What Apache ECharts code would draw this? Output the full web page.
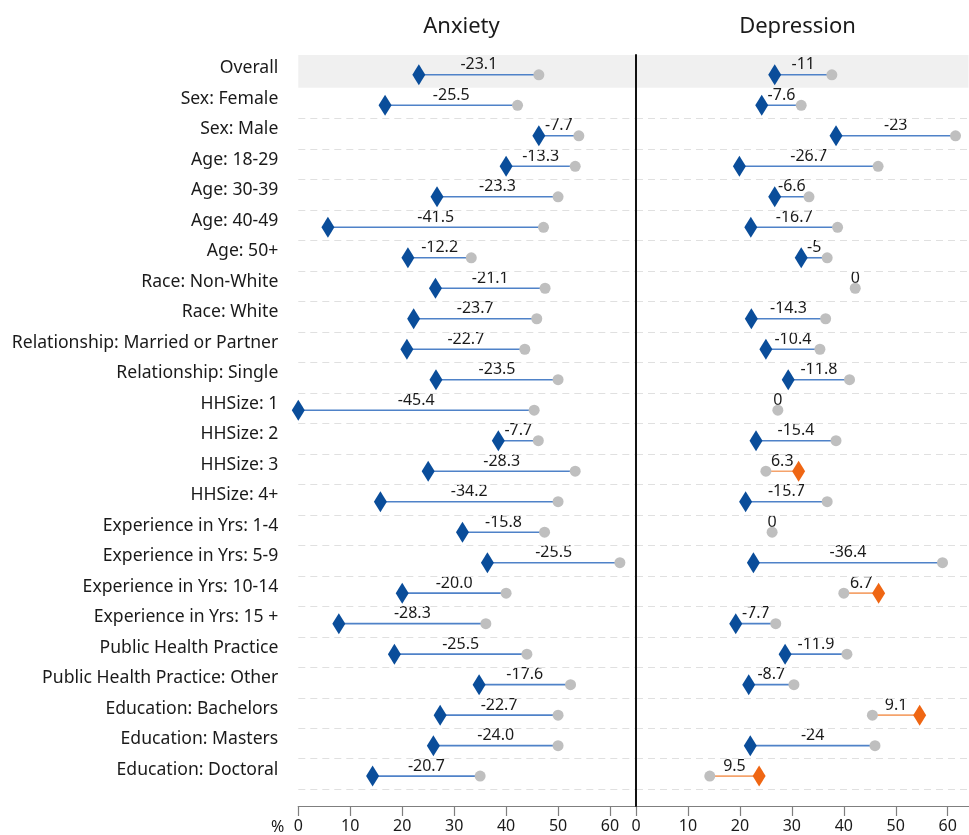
<!DOCTYPE html>
<html><head><meta charset="utf-8">
<script src="https://cdn.jsdelivr.net/npm/echarts@6/dist/echarts.min.js"></script>
<style>html,body{margin:0;padding:0;background:#fff}#c{width:969px;height:835px}</style>
</head><body><div id="c"></div>
<script>
const categories = ['Overall','Sex: Female','Sex: Male','Age: 18-29','Age: 30-39','Age: 40-49','Age: 50+','Race: Non-White','Race: White','Relationship: Married or Partner','Relationship: Single','HHSize: 1','HHSize: 2','HHSize: 3','HHSize: 4+','Experience in Yrs: 1-4','Experience in Yrs: 5-9','Experience in Yrs: 10-14','Experience in Yrs: 15 +','Public Health Practice','Public Health Practice: Other','Education: Bachelors','Education: Masters','Education: Doctoral'];
const anxietyBase   = [46.3, 42.2, 54.0, 53.3, 50.0, 47.2, 33.3, 47.5, 45.9, 43.6, 50.0, 45.4, 46.2, 53.3, 50.0, 47.4, 61.9, 40.0, 36.1, 44.0, 52.4, 50.0, 50.0, 35.0];
const anxietyFollow = [23.2, 16.7, 46.3, 40.0, 26.7, 5.7, 21.1, 26.4, 22.2, 20.9, 26.5, 0.0, 38.5, 25.0, 15.8, 31.6, 36.4, 20.0, 7.8, 18.5, 34.8, 27.3, 26.0, 14.3];
const anxietyDiff   = ['-23.1','-25.5','-7.7','-13.3','-23.3','-41.5','-12.2','-21.1','-23.7','-22.7','-23.5','-45.4','-7.7','-28.3','-34.2','-15.8','-25.5','-20.0','-28.3','-25.5','-17.6','-22.7','-24.0','-20.7'];
const depressionBase   = [37.7, 31.8, 61.5, 46.6, 33.3, 38.8, 36.8, 42.2, 36.5, 35.4, 41.1, 27.3, 38.5, 25.0, 36.8, 26.2, 59.0, 40.0, 26.9, 40.6, 30.4, 45.5, 46.0, 14.2];
const depressionFollow = [26.7, 24.2, 38.5, 19.9, 26.7, 22.1, 31.8, 42.2, 22.2, 25.0, 29.3, 27.3, 23.1, 31.3, 21.1, 26.2, 22.6, 46.7, 19.2, 28.7, 21.7, 54.6, 22.0, 23.7];
const depressionDiff   = ['-11','-7.6','-23','-26.7','-6.6','-16.7','-5','0','-14.3','-10.4','-11.8','0','-15.4','6.3','-15.7','0','-36.4','6.7','-7.7','-11.9','-8.7','9.1','-24','9.5'];
const xTicks = [0, 10, 20, 30, 40, 50, 60];
const panelTitles = ['Anxiety', 'Depression'];

const FONT = '"Noto Sans", "Open Sans", sans-serif';
const TXT = '#1a1a1a';
const rowIdx = categories.map((c, i) => i);
const LABEL_SHIFT = 0.21;

function segSeries(base, follow, diff, gi) {
  return {
    type: 'custom', xAxisIndex: gi, yAxisIndex: gi, z: 2, silent: true,
    data: base.map((b, i) => [i, b, follow[i]]),
    encode: { x: [1, 2], y: 0 },
    renderItem: function (params, api) {
      const i = api.value(0);
      const p1 = api.coord([api.value(1), i]);
      const p2 = api.coord([api.value(2), i]);
      const up = api.value(2) > api.value(1);
      const children = [];
      if (Math.abs(p1[0] - p2[0]) > 0.1) {
        children.push({ type: 'line', shape: { x1: p1[0], y1: p1[1], x2: p2[0], y2: p2[1] },
          style: { stroke: up ? '#f5a36c' : '#4f82c8', lineWidth: 1.6 } });
      }
      children.push({ type: 'text', x: (p1[0] + p2[0]) / 2, y: p1[1] - 10,
        style: { text: diff[params.dataIndex], fill: TXT, fontSize: 16, fontFamily: FONT, align: 'center', verticalAlign: 'middle' } });
      return { type: 'group', children: children };
    },
    markArea: { silent: true, itemStyle: { color: '#f0f0f0' }, data: [[{ yAxis: -0.65 }, { yAxis: 0.42 }]] },
    markLine: { silent: true, symbol: 'none', label: { show: false },
      lineStyle: { color: '#e0e0e0', type: [7, 5], width: 1 },
      data: rowIdx.slice(1).map(i => ({ yAxis: i + 0.43 })) }
  };
}
function circleSeries(base, gi) {
  return { type: 'scatter', xAxisIndex: gi, yAxisIndex: gi, z: 3, silent: true,
    symbol: 'circle', symbolSize: 11, itemStyle: { color: '#bfbfbf', opacity: 1 },
    data: base.map((b, i) => [b, i]) };
}
function diamondSeries(base, follow, gi) {
  const d = [];
  follow.forEach((f, i) => {
    if (f !== base[i]) d.push({ value: [f, i], itemStyle: { color: f > base[i] ? '#ef6613' : '#0a4d9a' } });
  });
  return { type: 'scatter', xAxisIndex: gi, yAxisIndex: gi, z: 4, silent: true,
    symbol: 'diamond', symbolSize: [13, 21], itemStyle: { opacity: 1 }, data: d };
}
function xAx(gi, max) {
  const ax = { type: 'value', gridIndex: gi, min: 0, max: max, position: 'bottom',
    axisLine: { show: true, onZero: false, lineStyle: { color: '#7f7f7f', width: 1.2 } },
    axisTick: { show: true, length: 10, customValues: xTicks, lineStyle: { color: '#7f7f7f', width: 1.2 } },
    axisLabel: { customValues: xTicks, margin: 12, fontSize: 16, color: TXT, fontFamily: FONT },
    splitLine: { show: false } };
  if (gi === 0) {
    ax.name = '%'; ax.nameLocation = 'start'; ax.nameGap = 14;
    ax.nameTextStyle = { fontSize: 16, color: TXT, fontFamily: FONT, verticalAlign: 'top', padding: [13, 0, 0, 0] };
  }
  return ax;
}
function yAx(gi) {
  return { type: 'value', gridIndex: gi, inverse: true, min: -0.65, max: 23.98, z: 10,
    axisLine: gi === 1 ? { show: true, onZero: false, lineStyle: { color: '#111', width: 2 } } : { show: false },
    axisTick: { show: false }, splitLine: { show: false },
    axisLabel: gi === 0 ? { show: true, customValues: rowIdx.map(i => i - LABEL_SHIFT),
      formatter: v => categories[Math.round(v + LABEL_SHIFT)],
      fontSize: 17.6, color: TXT, fontFamily: FONT, margin: 20 } : { show: false } };
}

const chart = echarts.init(document.getElementById('c'), null, { renderer: 'canvas' });
chart.setOption({
  animation: false,
  backgroundColor: '#fff',
  title: [
    { text: panelTitles[0], left: 456.5, top: 11, textAlign: 'center', textStyle: { fontSize: 22, fontWeight: 'normal', color: TXT, fontFamily: FONT } },
    { text: panelTitles[1], left: 792.5, top: 11, textAlign: 'center', textStyle: { fontSize: 22, fontWeight: 'normal', color: TXT, fontFamily: FONT } }
  ],
  grid: [
    { left: 298.3, top: 55, width: 337.7, height: 751, outerBoundsMode: 'none' },
    { left: 636, top: 55, width: 332.5, height: 751, outerBoundsMode: 'none' }
  ],
  xAxis: [xAx(0, 65), xAx(1, 64)],
  yAxis: [yAx(0), yAx(1)],
  series: [
    segSeries(anxietyBase, anxietyFollow, anxietyDiff, 0),
    circleSeries(anxietyBase, 0),
    diamondSeries(anxietyBase, anxietyFollow, 0),
    segSeries(depressionBase, depressionFollow, depressionDiff, 1),
    circleSeries(depressionBase, 1),
    diamondSeries(depressionBase, depressionFollow, 1)
  ]
});
</script></body></html>
